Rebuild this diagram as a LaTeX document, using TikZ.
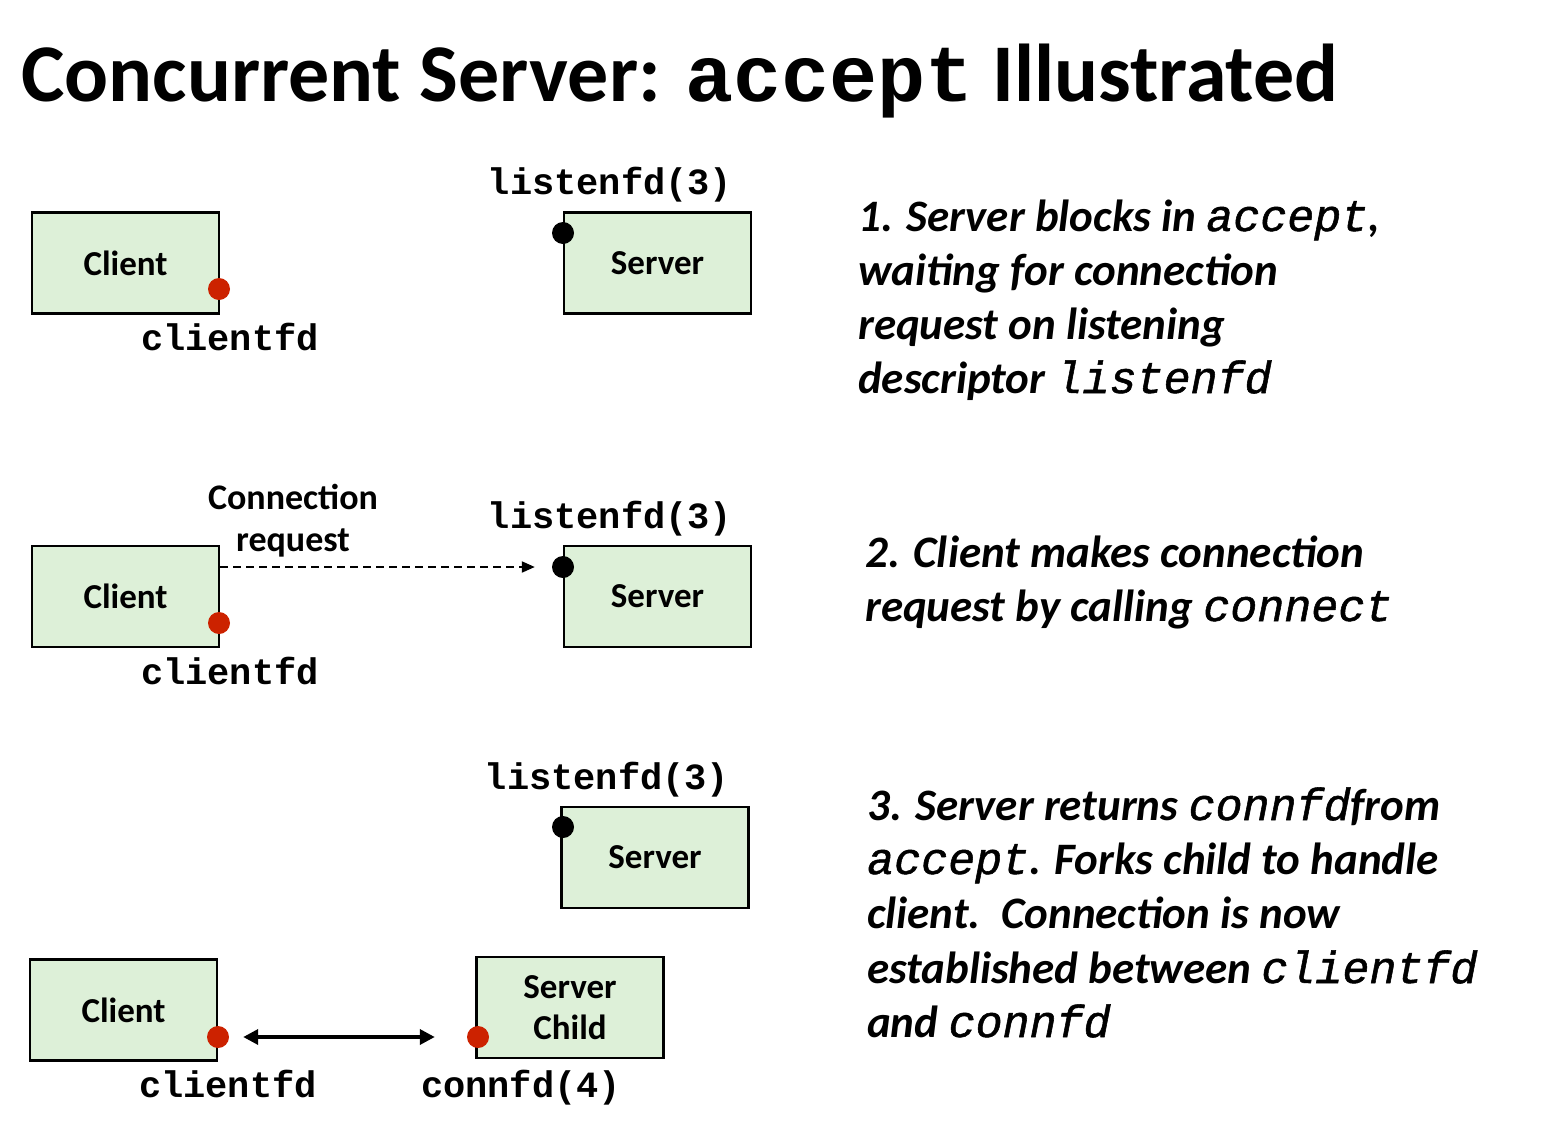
\documentclass[tikz,border=0pt]{standalone}
\usepackage{fontspec}
\setmainfont{Carlito}
\setmonofont{Liberation Mono}
% medium-weight slanted code face for the step descriptions
\newfontfamily\stepmono[FakeBold=1.2, ItalicFeatures={FakeBold=1.2}]{Liberation Mono}
\usetikzlibrary{arrows.meta}

\definecolor{boxfill}{HTML}{DDF0D8}
\definecolor{fdred}{HTML}{CC2200}

% inline code inside the step descriptions
\newcommand{\stepcode}[1]{{\fontsize{45}{54}\selectfont\stepmono\mdseries\itshape #1}}

\begin{document}
\begin{tikzpicture}[x=1pt,y=-1pt,
  hostbox/.style={draw=black, line width=2.5pt, fill=boxfill,
    minimum width=187pt, minimum height=101pt, inner sep=0pt,
    align=center, font=\fontsize{35}{38}\selectfont\bfseries},
  fddot/.style={circle, fill=#1, minimum size=22pt, inner sep=0pt},
  fdlabel/.style={anchor=base, inner sep=0pt,
    font=\fontsize{37}{40}\selectfont\bfseries\ttfamily},
  steptext/.style={anchor=base west, inner sep=0pt,
    font=\fontsize{45}{54}\selectfont\bfseries\itshape},
  tiplabel/.style={anchor=base, inner sep=0pt,
    font=\fontsize{36}{40}\selectfont\bfseries},
]
\useasboundingbox (0,0) rectangle (1544,1122);

% title
\node[anchor=base west, inner sep=0pt] (title) at (21,101)
  {\fontsize{82}{100}\selectfont\bfseries Concurrent Server:
   {\fontsize{80}{100}\selectfont\ttfamily accept} Illustrated};

% ---------- step 1 ----------
\node[hostbox] (client1) at (125.5,263) {Client};
\node[hostbox] (server1) at (657.5,263) {Server};
\node[fddot=fdred] (cfd1) at (219,289) {};
\node[fddot=black] (lfd1) at (563,233) {};
\node[fdlabel] (cfdlab1) at (230,350) {clientfd};
\node[fdlabel] (lfdlab1) at (610,194) {listenfd(3)};

\node[steptext] (s1a) at (858,231) {1. Server blocks in \stepcode{accept},};
\node[steptext] (s1b) at (858,285) {waiting for connection};
\node[steptext] (s1c) at (858,339) {request on listening};
\node[steptext] (s1d) at (858,393) {descriptor \stepcode{listenfd}};

% ---------- step 2 ----------
\node[hostbox] (client2) at (125.5,596.5) {Client};
\node[hostbox] (server2) at (657.5,596.5) {Server};
\node[fddot=fdred] (cfd2) at (219,623) {};
\node[fddot=black] (lfd2) at (563,567) {};
\node[fdlabel] (cfdlab2) at (230,684) {clientfd};
\node[fdlabel] (lfdlab2) at (610,528) {listenfd(3)};
\node[tiplabel] (reqa) at (293,509) {Connection};
\node[tiplabel] (reqb) at (293,551) {request};
\draw[line width=2pt, dash pattern=on 8pt off 5pt,
      -{Triangle[length=13pt,width=11pt]}, shorten >=17pt]
  (client2.east |- lfd2.center) -- (lfd2.west);

\node[steptext] (s2a) at (865,567) {2. Client makes connection};
\node[steptext] (s2b) at (865,621) {request by calling \stepcode{connect}};

% ---------- step 3 ----------
\node[hostbox] (server3) at (655,857.5) {Server};
\node[fddot=black] (lfd3) at (563,827) {};
\node[fdlabel] (lfdlab3) at (607,789) {listenfd(3)};

\node[hostbox] (client3) at (123.5,1010) {Client};
\node[hostbox, text depth=-6pt] (child3) at (570,1007.5) {Server\\[3pt]Child};
\node[fddot=fdred] (cfd3) at (218,1037) {};
\node[fddot=fdred] (connfd3) at (478,1037) {};
\node[fdlabel] (cfdlab3) at (228,1097) {clientfd};
\node[fdlabel] (connlab3) at (521,1097) {connfd(4)};
\draw[line width=3.5pt,
      {Triangle[length=15pt,width=15pt]}-{Triangle[length=15pt,width=15pt]},
      shorten <=14pt, shorten >=32pt]
  (cfd3.east) -- (connfd3.west);

\node[steptext] (s3a) at (867,820) {3. Server returns \stepcode{connfd}from};
\node[steptext] (s3b) at (867,874) {\stepcode{accept}. Forks child to handle};
\node[steptext] (s3c) at (867,928) {client.\ \ Connection is now};
\node[steptext] (s3d) at (867,983) {established between \stepcode{clientfd}};
\node[steptext] (s3e) at (867,1037) {and \stepcode{connfd}};
\end{tikzpicture}
\end{document}
